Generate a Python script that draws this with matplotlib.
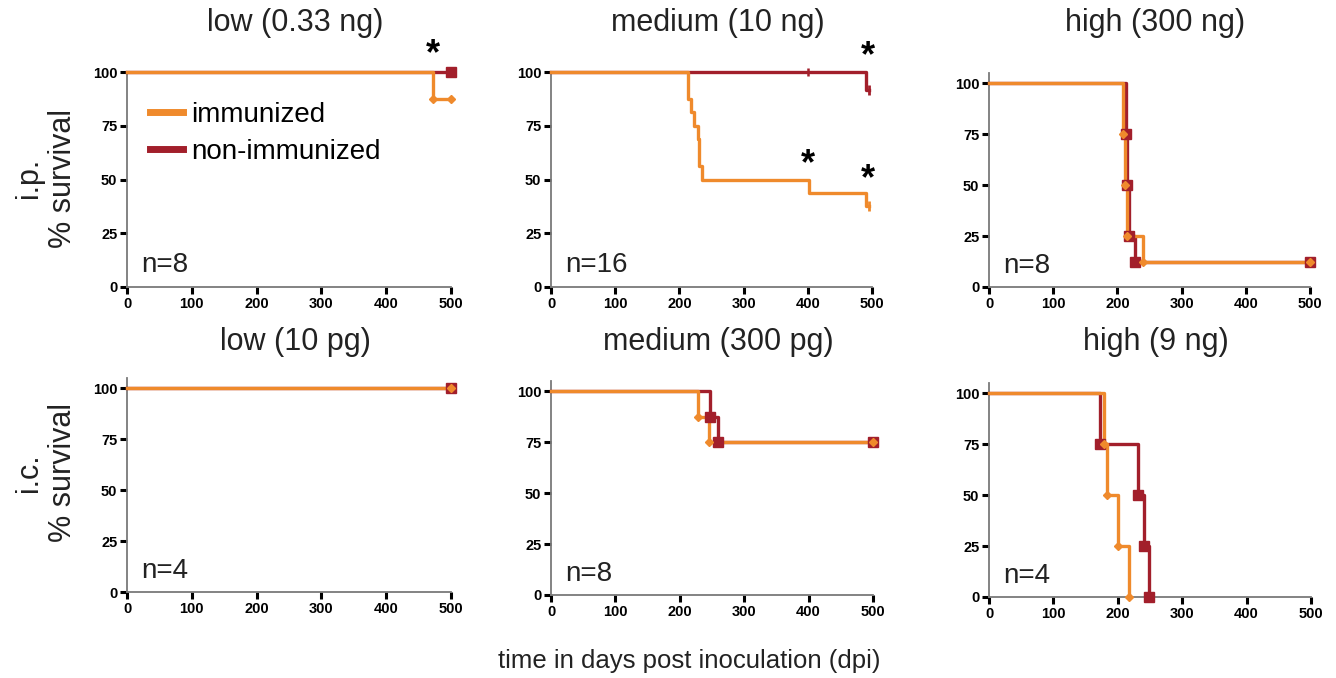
import numpy as np
import matplotlib
matplotlib.use("Agg")
import matplotlib.pyplot as plt
from matplotlib.lines import Line2D

plt.rcParams['font.family'] = ['Liberation Sans', 'DejaVu Sans']

ORANGE = "#EF8A2C"
DARKRED = "#A21F2B"

# survival curves: step times (days) and % survival after each step
ip_low_imm_t = [0, 472, 500]
ip_low_imm_s = [100, 87.5, 87.5]
ip_low_non_t = [0, 500]
ip_low_non_s = [100, 100]

ip_med_imm_t = [0, 213, 214, 218, 222, 229, 230, 231, 235, 402, 491, 496]
ip_med_imm_s = [100, 93.75, 87.5, 81.25, 75, 68.75, 62.5, 56.25, 50, 43.75, 37.5, 37.5]
ip_med_non_t = [0, 491, 496]
ip_med_non_s = [100, 91.7, 91.7]

ip_high_imm_t = [0, 209, 212, 215, 240, 500]
ip_high_imm_s = [100, 75, 50, 25, 12.5, 12.5]
ip_high_non_t = [0, 213, 215, 218, 228, 500]
ip_high_non_s = [100, 75, 50, 25, 12.5, 12.5]

ic_low_imm_t = [0, 500]
ic_low_imm_s = [100, 100]
ic_low_non_t = [0, 500]
ic_low_non_s = [100, 100]

ic_med_imm_t = [0, 229, 245, 500]
ic_med_imm_s = [100, 87.5, 75, 75]
ic_med_non_t = [0, 247, 259, 500]
ic_med_non_s = [100, 87.5, 75, 75]

ic_high_imm_t = [0, 178, 184, 201, 218]
ic_high_imm_s = [100, 75, 50, 25, 0]
ic_high_non_t = [0, 173, 232, 240, 248]
ic_high_non_s = [100, 75, 50, 25, 0]

titles = ["low (0.33 ng)", "medium (10 ng)", "high (300 ng)",
          "low (10 pg)", "medium (300 pg)", "high (9 ng)"]
n_labels = ["n=8", "n=16", "n=8", "n=4", "n=8", "n=4"]
row_labels = ["i.p.\n% survival", "i.c.\n% survival"]
legend_labels = ["immunized", "non-immunized"]

# significance stars (panel index, day, % survival)
stars = [(0, 472, 108), (1, 400, 57), (1, 493, 50), (1, 493, 107)]
# censor ticks without symbols (panel index, day, % survival)
censor_ticks = [(1, 400, 100, DARKRED)]

curves = [
    (ip_low_imm_t, ip_low_imm_s, ip_low_non_t, ip_low_non_s),
    (ip_med_imm_t, ip_med_imm_s, ip_med_non_t, ip_med_non_s),
    (ip_high_imm_t, ip_high_imm_s, ip_high_non_t, ip_high_non_s),
    (ic_low_imm_t, ic_low_imm_s, ic_low_non_t, ic_low_non_s),
    (ic_med_imm_t, ic_med_imm_s, ic_med_non_t, ic_med_non_s),
    (ic_high_imm_t, ic_high_imm_s, ic_high_non_t, ic_high_non_s),
]
show_marks = [True, False, True, True, True, True]

W, H = 1336, 678
fig = plt.figure(figsize=(W / 100, H / 100), dpi=100)

# axes boxes in pixels: left, right, top, bottom, ymax
boxes = [
    (127, 451, 72, 287, 100), (551, 872, 72, 287, 100), (989, 1310, 73, 287, 105),
    (127, 451, 378, 592, 105), (551, 873, 381, 595, 105), (989, 1311, 383, 597, 105),
]

axes = []
for i, (l, r, t, b, ymax) in enumerate(boxes):
    ax = fig.add_axes([l / W, 1 - b / H, (r - l) / W, (b - t) / H])
    axes.append(ax)
    ti, si, tn, sn = curves[i]
    ax.step(tn, sn, where="post", color=DARKRED, lw=2.4, clip_on=False, zorder=3)
    ax.step(ti, si, where="post", color=ORANGE, lw=2.4, clip_on=False, zorder=4)
    if show_marks[i]:
        ax.plot(tn[1:], sn[1:], ls="none", marker="s", ms=6.5, color=DARKRED,
                clip_on=False, zorder=5)
        ax.plot(ti[1:], si[1:], ls="none", marker="D", ms=4.5, color=ORANGE,
                clip_on=False, zorder=6)
    else:
        ax.plot(tn[-1:], sn[-1:], ls="none", marker="|", ms=7, mew=2, color=DARKRED,
                clip_on=False, zorder=5)
        ax.plot(ti[-1:], si[-1:], ls="none", marker="|", ms=7, mew=2, color=ORANGE,
                clip_on=False, zorder=6)

    ax.set_xlim(0, 500)
    ax.set_ylim(0, ymax)
    ax.set_xticks([0, 100, 200, 300, 400, 500])
    ax.set_yticks([0, 25, 50, 75, 100])
    for s in ["top", "right"]:
        ax.spines[s].set_visible(False)
    for s in ["left", "bottom"]:
        ax.spines[s].set_color("#7a7a7a")
        ax.spines[s].set_linewidth(1.3)
    ax.tick_params(direction="out", length=5, width=2.2, color="black",
                   labelsize=10.5, pad=2)
    for lab in ax.get_xticklabels() + ax.get_yticklabels():
        lab.set_fontweight("bold")

    ax.text(0.045, 0.1, n_labels[i], transform=ax.transAxes, fontsize=20,
            ha="left", va="center", color="#222222")
    fig.text(((l + r) / 2 + 6) / W, 1 - (23 if i < 3 else 342) / H, titles[i],
             fontsize=22, ha="center", va="center", color="#222222")

for p, x, y in stars:
    axes[p].text(x, y, "*", fontsize=26, fontweight="bold", ha="center",
                 va="center", clip_on=False)
for p, x, y, c in censor_ticks:
    axes[p].plot([x], [y], ls="none", marker="|", ms=6, mew=1.8, color=c,
                 clip_on=False, zorder=5)

handles = [Line2D([], [], color=ORANGE, lw=5), Line2D([], [], color=DARKRED, lw=5)]
axes[0].legend(handles, legend_labels, loc="upper left", bbox_to_anchor=(0.01, 0.95),
               frameon=False, fontsize=20, handlelength=1.2, handletextpad=0.3,
               labelspacing=0.38, borderaxespad=0.3)

fig.text(46 / W, 1 - 178 / H, row_labels[0], rotation=90, fontsize=22,
         ha="center", va="center", multialignment="center", color="#222222",
         linespacing=1.15)
fig.text(46 / W, 1 - 473 / H, row_labels[1], rotation=90, fontsize=22,
         ha="center", va="center", multialignment="center", color="#222222",
         linespacing=1.15)
fig.text(689 / W, 1 - 661 / H, "time in days post inoculation (dpi)", fontsize=18.5,
         ha="center", va="center", color="#222222")

fig.savefig("out.png", dpi=100)
